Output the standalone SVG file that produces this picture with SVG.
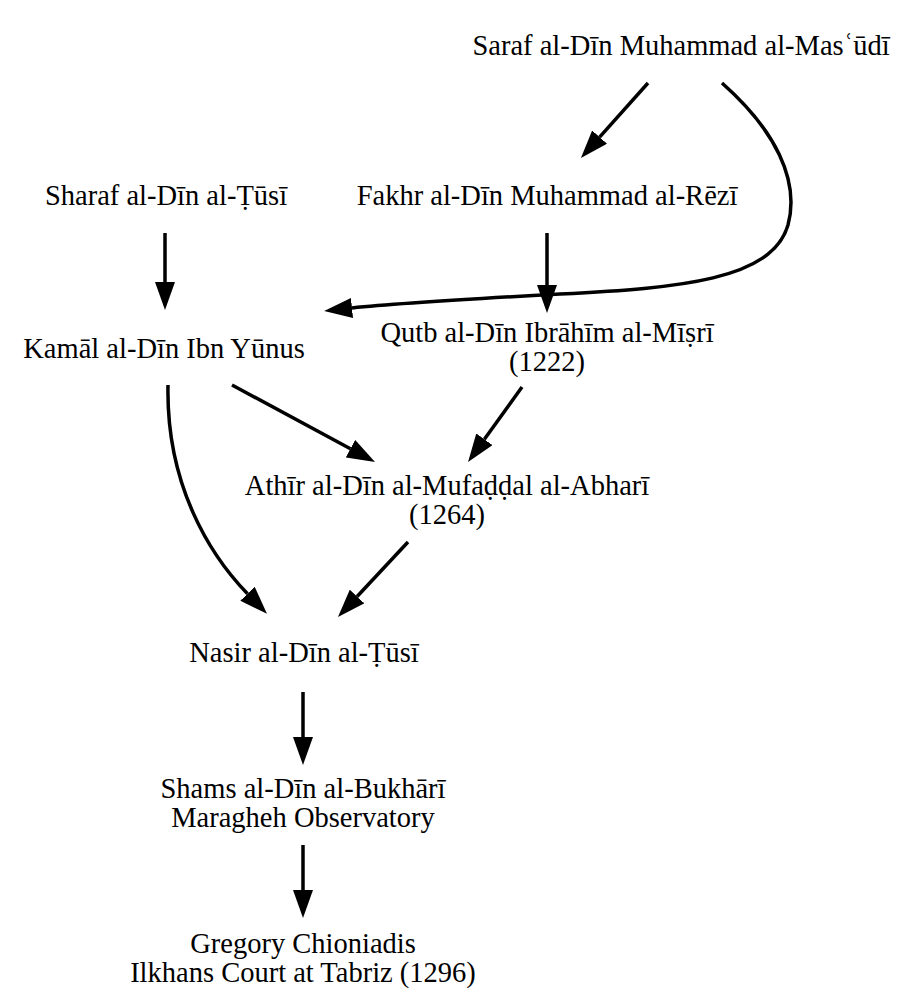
<svg xmlns="http://www.w3.org/2000/svg" width="917" height="1008" viewBox="0 0 917 1008">
<style>
text{font-family:"Liberation Serif","Times New Roman",serif;font-size:28.5px;fill:#000;text-anchor:middle}
.e{fill:none;stroke:#000;stroke-width:3.5;marker-end:url(#ah)}
</style>
<defs>
<marker id="ah" markerUnits="userSpaceOnUse" viewBox="0 0 28 20" markerWidth="28" markerHeight="20" refX="0" refY="10" orient="auto">
<path d="M0,0 L28,10 L0,20 z" fill="#000"/>
</marker>
</defs>
<rect width="917" height="1008" fill="#fff"/>
<g id="edges">
<path class="e" d="M648,83 L599.6,137.1"/>
<path class="e" d="M722,83 C775,130 800,180 788,225 C772,280 680,288 560,294 C470,299 400,303 352,308"/>
<path class="e" d="M165,233 L165,282"/>
<path class="e" d="M547,233 L547,285"/>
<path class="e" d="M232,385 L350.4,448.7"/>
<path class="e" d="M522,387 L484.4,439.3"/>
<path class="e" d="M168,385 C166,485 210,555 247.5,593.7"/>
<path class="e" d="M408,542 L357.1,596.5"/>
<path class="e" d="M303,692 L303,737"/>
<path class="e" d="M303,845 L303,890"/>
</g>
<g id="saraf"><text x="681" y="55">Saraf al-Dīn Muhammad al-Masʿūdī</text></g>
<g id="sharaf"><text x="166" y="205">Sharaf al-Dīn al-Ṭūsī</text></g>
<g id="fakhr"><text x="547" y="205">Fakhr al-Dīn Muhammad al-Rēzī</text></g>
<g id="kamal"><text x="164" y="358">Kamāl al-Dīn Ibn Yūnus</text></g>
<g id="qutb"><text x="547" y="342">Qutb al-Dīn Ibrāhīm al-Mīṣrī</text><text x="547" y="371">(1222)</text></g>
<g id="athir"><text x="447" y="495">Athīr al-Dīn al-Mufaḍḍal al-Abharī</text><text x="447" y="524">(1264)</text></g>
<g id="nasir"><text x="304" y="662">Nasir al-Dīn al-Ṭūsī</text></g>
<g id="shams"><text x="303" y="798">Shams al-Dīn al-Bukhārī</text><text x="303" y="827">Maragheh Observatory</text></g>
<g id="gregory"><text x="303" y="953">Gregory Chioniadis</text><text x="303" y="982">Ilkhans Court at Tabriz (1296)</text></g>
</svg>
